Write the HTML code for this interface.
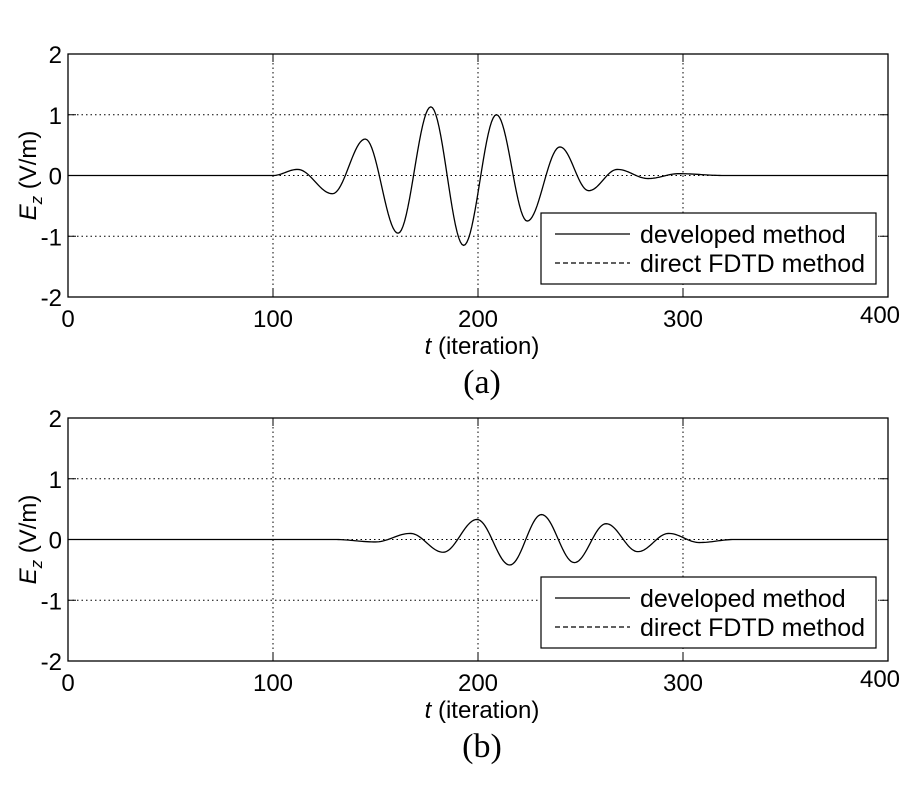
<!DOCTYPE html>
<html><head><meta charset="utf-8"><style>
html,body{margin:0;padding:0;background:#fff;}
svg{display:block;}
text{font-family:"Liberation Sans",Arial,sans-serif;fill:#000;}
.t{font-size:24px;}
.l{font-size:25px;}
.cap{font-family:"Liberation Serif",serif;font-size:34px;}
</style></head><body>
<svg id="s" width="900" height="800" viewBox="0 0 900 800" xmlns="http://www.w3.org/2000/svg"></svg>
<script>
const s=document.getElementById('s');
const NS='http://www.w3.org/2000/svg';
function el(n,a,txt){const e=document.createElementNS(NS,n);for(const k in a)e.setAttribute(k,a[k]);if(txt!==undefined)e.innerHTML=txt;s.appendChild(e);return e;}
const X0=68,X1=888;
function px(t){return X0+(X1-X0)*t/400;}
function panel(top,bottom,ext,cap){
  const ppu=(bottom-top)/4, y0=(top+bottom)/2;
  const py=v=>y0-v*ppu;
  for(const t of [100,200,300]) el('line',{x1:px(t),x2:px(t),y1:top,y2:bottom,stroke:'#000','stroke-width':1,'stroke-dasharray':'1.5,3'});
  for(const v of [1,0,-1]) el('line',{x1:X0,x2:X1,y1:py(v),y2:py(v),stroke:'#000','stroke-width':1,'stroke-dasharray':'1.5,3'});
  for(const t of [0,100,200,300,400]){el('line',{x1:px(t),x2:px(t),y1:bottom,y2:bottom-8,stroke:'#000'});el('line',{x1:px(t),x2:px(t),y1:top,y2:top+8,stroke:'#000'});}
  for(const v of [-2,-1,0,1,2]){el('line',{x1:X0,x2:X0+8,y1:py(v),y2:py(v),stroke:'#000'});el('line',{x1:X1,x2:X1-8,y1:py(v),y2:py(v),stroke:'#000'});}
  let d='';
  for(let i=0;i<ext.length-1;i++){
    const [t0,v0]=ext[i],[t1,v1]=ext[i+1];
    for(let k=0;k<=20;k++){const f=k/20,t=t0+(t1-t0)*f,v=v0+(v1-v0)*(1-Math.cos(Math.PI*f))/2;
      d+=(d?'L':'M')+px(t).toFixed(2)+','+py(v).toFixed(2);}
  }
  el('path',{d:d,fill:'none',stroke:'#000','stroke-width':1.3});
  el('rect',{x:X0,y:top,width:X1-X0,height:bottom-top,fill:'none',stroke:'#000','stroke-width':1.3});
  for(const v of [2,1,0,-1,-2]) el('text',{x:X0-6,y:py(v)+9,'text-anchor':'end',class:'t'},String(v));
  for(const t of [0,100,200,300]) el('text',{x:px(t),y:bottom+30,'text-anchor':'middle',class:'t'},String(t));
  el('text',{x:px(400)-8,y:bottom+26,'text-anchor':'middle',class:'t'},'400');
  el('text',{x:482,y:bottom+57,'text-anchor':'middle',class:'t'},'<tspan font-style="italic">t</tspan> (iteration)');
  el('text',{x:482,y:bottom+96,'text-anchor':'middle',class:'cap'},cap);
  el('text',{x:36,y:y0,'text-anchor':'middle',class:'t',transform:'rotate(-90 36 '+y0+')'},'<tspan font-style="italic">E</tspan><tspan font-style="italic" font-size="17" dy="6">z</tspan><tspan dy="-6">  (V/m)</tspan>');
  const lt=bottom-84, lb=bottom-13;
  el('rect',{x:541,y:lt,width:335,height:lb-lt,fill:'#fff',stroke:'#000','stroke-width':1.2});
  el('line',{x1:555,x2:630,y1:lt+21,y2:lt+21,stroke:'#000','stroke-width':1.2});
  el('line',{x1:555,x2:630,y1:lt+50,y2:lt+50,stroke:'#000','stroke-width':1.2,'stroke-dasharray':'5,3'});
  el('text',{x:640,y:lt+30,class:'l'},'developed method');
  el('text',{x:640,y:lt+59,class:'l'},'direct FDTD method');
}
panel(54,297,[[0,0],[100,0],[112,0.1],[129,-0.3],[145,0.6],[161,-0.95],[177,1.13],[193,-1.15],[209,1.0],[224,-0.75],[240,0.47],[254,-0.25],[268,0.1],[283,-0.05],[298,0.03],[320,0],[400,0]],'(a)');
panel(418,661,[[0,0],[130,0],[150,-0.04],[167,0.1],[183,-0.21],[199.5,0.33],[215.5,-0.42],[231,0.41],[247,-0.38],[262.5,0.26],[278,-0.2],[293,0.1],[308,-0.05],[325,0],[400,0]],'(b)');
</script>
</body></html>
